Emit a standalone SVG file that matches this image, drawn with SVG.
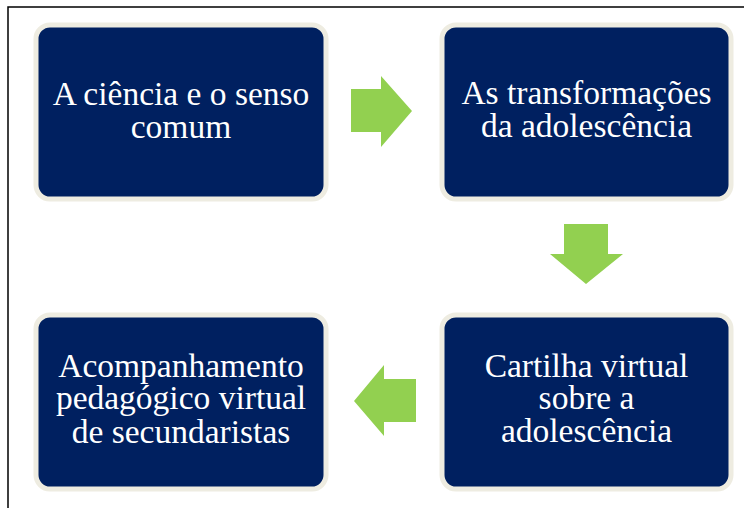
<svg xmlns="http://www.w3.org/2000/svg" width="744" height="508" viewBox="0 0 744 508">
  <style>
    .box { fill: #002060; stroke: #EEECE1; stroke-width: 5; }
    .lbl { font-family: "Liberation Serif", "Times New Roman", serif; font-size: 33.5px; fill: #FFFFFF; text-anchor: middle; }
    .arrow { fill: #92D050; }
    .frame { fill: none; stroke: #000000; stroke-width: 1.5; }
  </style>
  <rect width="744" height="508" fill="#FFFFFF"/>
  <path class="frame" d="M8,508 V7 H744"/>

  <g id="node-ciencia">
    <rect class="box" x="36" y="25" width="290" height="174" rx="14"/>
    <text class="lbl" x="181" y="105">A ciência e o senso</text>
    <text class="lbl" x="181" y="138">comum</text>
  </g>

  <g id="node-transformacoes">
    <rect class="box" x="442" y="25" width="289" height="174" rx="14"/>
    <text class="lbl" x="586.5" y="104">As transformações</text>
    <text class="lbl" x="586.5" y="137">da adolescência</text>
  </g>

  <g id="node-cartilha">
    <rect class="box" x="442" y="315" width="289" height="174" rx="14"/>
    <text class="lbl" x="586.5" y="377">Cartilha virtual</text>
    <text class="lbl" x="586.5" y="409">sobre a</text>
    <text class="lbl" x="586.5" y="442">adolescência</text>
  </g>

  <g id="node-acompanhamento">
    <rect class="box" x="36" y="315" width="290" height="174" rx="14"/>
    <text class="lbl" x="181" y="377">Acompanhamento</text>
    <text class="lbl" x="181" y="409">pedagógico virtual</text>
    <text class="lbl" x="181" y="443">de secundaristas</text>
  </g>

  <g id="connectors">
    <polygon class="arrow" points="351,89 381,89 381,76 412,111 381,147 381,132 351,132"/>
    <polygon class="arrow" points="564,224 608,224 608,254 623,254 586,284 550,254 564,254"/>
    <polygon class="arrow" points="416,379 384,379 384,365 354,401 384,436 384,422 416,422"/>
  </g>
</svg>
